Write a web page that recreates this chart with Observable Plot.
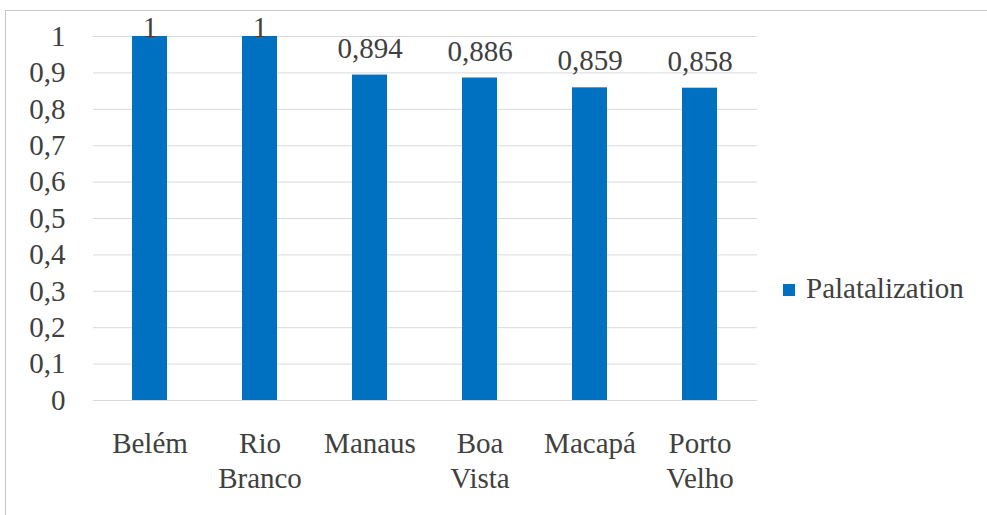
<!DOCTYPE html>
<html>
<head>
<meta charset="utf-8">
<script src="https://cdn.jsdelivr.net/npm/d3@7"></script>
<script src="https://cdn.jsdelivr.net/npm/@observablehq/plot@0.6"></script>
<style>
  html, body { margin: 0; padding: 0; background: #fff; font-family: 'Liberation Serif'; }
  #wrap { position: relative; width: 987px; height: 515px; overflow: hidden; }
  #frame { position: absolute; left: 5px; top: 10px; width: 990px; height: 520px; border-top: 1px solid #c6c6c6; border-left: 1px solid #c6c6c6; }
  #chart { position: absolute; left: 0; top: 0; }
  #legend { position: absolute; left: 783px; top: 274px; display: flex; align-items: center; color: #404040; font-size: 29px; line-height: 29px; }
  #legend .sw { width: 12px; height: 12px; background: #0070C0; margin-right: 11px; margin-top: 3px; }
  svg text { font-family: 'Liberation Serif'; }
</style>
</head>
<body>
<div id="wrap">
  <div id="frame"></div>
  <div id="chart"></div>
  <div id="legend"><span class="sw"></span><span>Palatalization</span></div>
</div>
<script>
// Palatalization rate by city
const cities = ["Belém", "Rio\nBranco", "Manaus", "Boa\nVista", "Macapá", "Porto\nVelho"];
const values = [1, 1, 0.894, 0.886, 0.859, 0.858];
const yTicks = [0, 0.1, 0.2, 0.3, 0.4, 0.5, 0.6, 0.7, 0.8, 0.9, 1];

const rows = cities.map((city, i) => ({city, value: values[i]}));
const comma = v => String(+v.toFixed(3)).replace(".", ",");
const ink = "#404040";

const chart = Plot.plot({
  width: 987,
  height: 515,
  marginLeft: 93,
  marginRight: 230,
  marginTop: 36,
  marginBottom: 115,
  style: {background: "transparent"},
  x: {domain: cities, paddingInner: 0.68, paddingOuter: 0.34, label: null},
  y: {domain: [0, 1], label: null},
  marks: [
    Plot.gridY(yTicks, {stroke: "#d9d9d9", strokeOpacity: 1, strokeWidth: 1}),
    Plot.axisY(yTicks, {tickSize: 0, tickPadding: 28, fontSize: 29, fill: ink, tickFormat: comma}),
    Plot.axisX({tickSize: 0, tickPadding: 28, fontSize: 29, lineHeight: 1.207, fill: ink}),
    Plot.barY(rows, {x: "city", y: "value", fill: "#0070C0"}),
    Plot.text(rows, {
      x: "city",
      y: d => Math.min(d.value + 0.048, 1),
      text: d => comma(d.value),
      lineAnchor: "bottom",
      fontSize: 29,
      fill: ink
    })
  ]
});
document.getElementById("chart").appendChild(chart);
</script>
</body>
</html>
